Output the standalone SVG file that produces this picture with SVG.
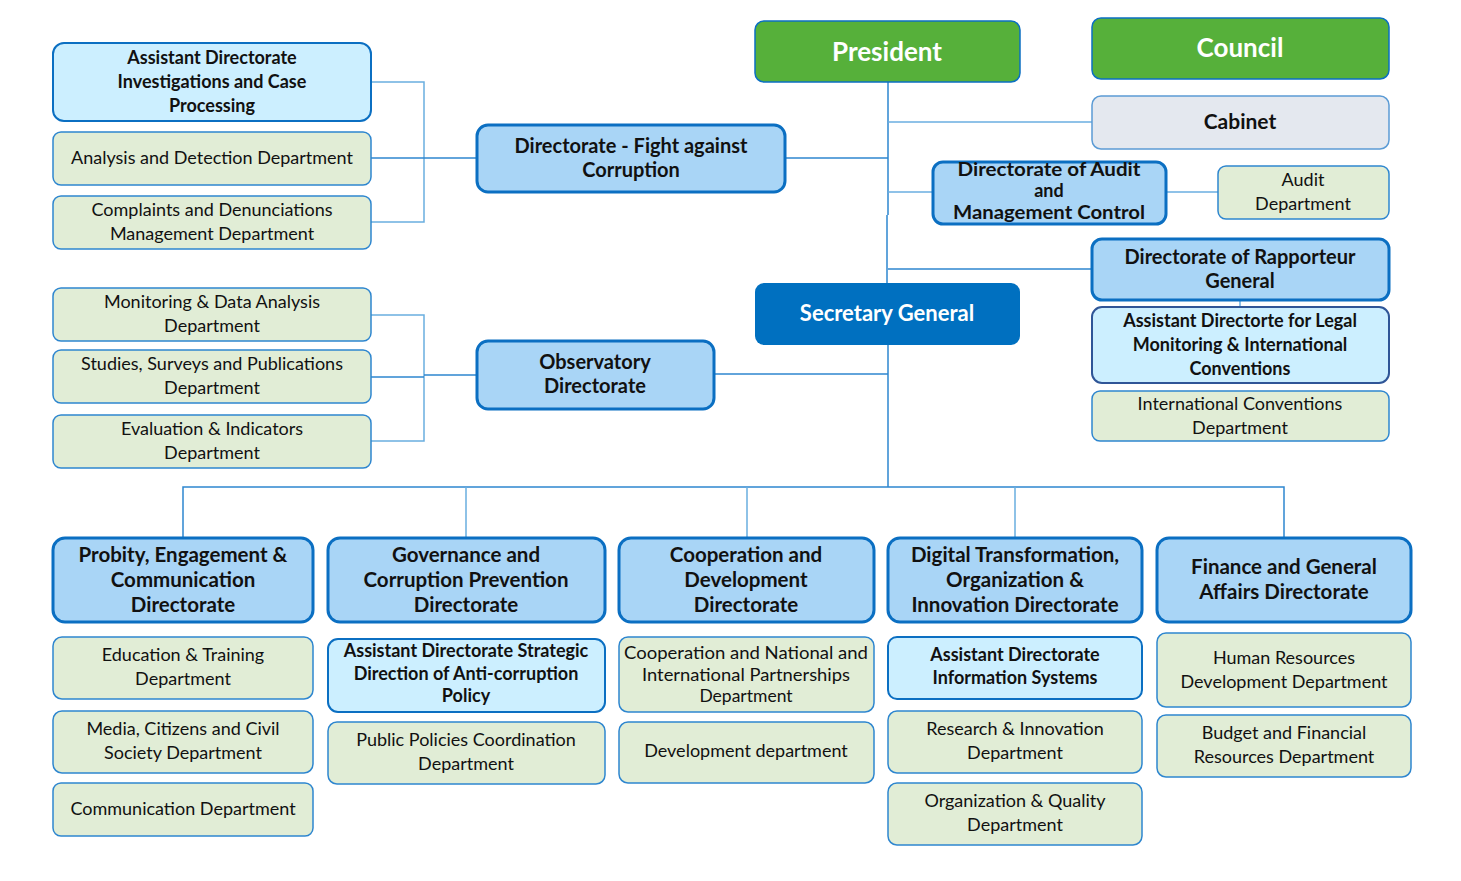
<svg xmlns="http://www.w3.org/2000/svg" width="1461" height="881" viewBox="0 0 1461 881">
<style>
text{font-family:Lato,"Open Sans","Liberation Sans",sans-serif;text-anchor:middle;fill:#111}
.dir rect{fill:#a9d5f6;stroke:#0b6fc2;stroke-width:3}
.dir text{font-weight:bold;font-size:20px}
.hd text{font-size:20.5px}
.dep rect{fill:#e1edd6;stroke:#2e86cf;stroke-width:1.5}
.dep text{font-size:18px}
.ast rect{fill:#ccefff;stroke:#0b6fc2;stroke-width:2}
.ast text{font-weight:bold;font-size:18px}
.top rect{fill:#56b03a;stroke:#0b6fc2;stroke-width:1.5}
.top text{fill:#fff;font-weight:bold;font-size:26px}
#connectors path{fill:none;stroke:#2e86cf;stroke-width:1.5}
#connectors path.lt{stroke:#6aaee0}
</style>
<g id="connectors">
<path d="M888,82 V215 M887,215 V283 M888,345 V487"/>
<path class="lt" d="M888,122 H1092"/>
<path d="M785,158 H888"/>
<path class="lt" d="M888,192 H933"/>
<path class="lt" d="M1166,192 H1218"/>
<path d="M888,269 H1092"/>
<path d="M714,374 H888"/>
<path class="lt" d="M1240,300 V307"/>
<path class="lt" d="M371,82 H424 V222 H371"/>
<path d="M371,158 H477"/>
<path class="lt" d="M371,315 H424 V441 H371"/>
<path d="M371,377 H424 M424,375 H477"/>
<path d="M183,538 V487 H1284 V538"/>
<path class="lt" d="M466,487 V538 M747,487 V538 M1015,487 V538"/>
</g>
<g id="president" class="top"><rect x="755" y="21" width="265" height="61" rx="9"/><text x="887" y="61">President</text></g>
<g id="council" class="top"><rect x="1092" y="18" width="297" height="61" rx="9"/><text x="1240" y="57">Council</text></g>
<g id="cabinet"><rect x="1092" y="96" width="297" height="53" rx="9" fill="#e4e8ef" stroke="#5b9bd5" stroke-width="1.5"/><text x="1240" y="129" font-weight="bold" font-size="21">Cabinet</text></g>
<g id="audit-dir" class="dir"><rect x="933" y="162" width="233" height="62" rx="10"/><text x="1049" y="175.5" style="font-size:18px" textLength="183" lengthAdjust="spacingAndGlyphs">Directorate of Audit</text><text x="1049" y="197" style="font-size:18px">and</text><text x="1049" y="218.5" style="font-size:18px" textLength="192" lengthAdjust="spacingAndGlyphs">Management Control</text></g>
<g id="audit-dep" class="dep"><rect x="1218" y="166" width="171" height="53" rx="8"/><text x="1303" y="186">Audit</text><text x="1303" y="210">Department</text></g>
<g id="rapporteur" class="dir"><rect x="1092" y="239" width="297" height="61" rx="10"/><text x="1240" y="264">Directorate of Rapporteur</text><text x="1240" y="288">General</text></g>
<g id="legal" class="ast"><rect x="1092" y="307" width="297" height="76" rx="10" style="stroke:#2f5597"/><text x="1240" y="327">Assistant Directorte for  Legal</text><text x="1240" y="351">Monitoring &amp; International</text><text x="1240" y="375">Conventions</text></g>
<g id="intl-conv" class="dep"><rect x="1092" y="391" width="297" height="50" rx="8"/><text x="1240" y="410">International Conventions</text><text x="1240" y="434">Department</text></g>
<g id="secgen"><rect x="755" y="283" width="265" height="62" rx="9" fill="#0070c0"/><text x="887" y="321" style="fill:#fff" font-weight="bold" font-size="22">Secretary General</text></g>
<g id="fight" class="dir"><rect x="477" y="125" width="308" height="67" rx="11"/><text x="631" y="152.5">Directorate - Fight against</text><text x="631" y="176.5">Corruption</text></g>
<g id="investigations" class="ast"><rect x="53" y="43" width="318" height="78" rx="11"/><text x="212" y="64">Assistant Directorate</text><text x="212" y="88">Investigations and Case</text><text x="212" y="112">Processing</text></g>
<g id="analysis" class="dep"><rect x="53" y="132" width="318" height="53" rx="8"/><text x="212" y="164">Analysis and Detection Department</text></g>
<g id="complaints" class="dep"><rect x="53" y="196" width="318" height="53" rx="8"/><text x="212" y="216">Complaints and Denunciations</text><text x="212" y="240">Management Department</text></g>
<g id="observatory" class="dir"><rect x="477" y="341" width="237" height="68" rx="11"/><text x="595" y="369">Observatory</text><text x="595" y="393">Directorate</text></g>
<g id="monitoring" class="dep"><rect x="53" y="288" width="318" height="53" rx="8"/><text x="212" y="308">Monitoring &amp; Data Analysis</text><text x="212" y="332">Department</text></g>
<g id="studies" class="dep"><rect x="53" y="350" width="318" height="53" rx="8"/><text x="212" y="370">Studies, Surveys and Publications</text><text x="212" y="394">Department</text></g>
<g id="evaluation" class="dep"><rect x="53" y="415" width="318" height="53" rx="8"/><text x="212" y="435">Evaluation &amp; Indicators</text><text x="212" y="459">Department</text></g>
<g id="probity" class="dir hd"><rect x="53" y="538" width="260" height="84" rx="12"/><text x="183" y="562">Probity, Engagement &amp;</text><text x="183" y="587">Communication</text><text x="183" y="612">Directorate</text></g>
<g id="education" class="dep"><rect x="53" y="637" width="260" height="62" rx="9"/><text x="183" y="661">Education &amp; Training</text><text x="183" y="685">Department</text></g>
<g id="media" class="dep"><rect x="53" y="711" width="260" height="62" rx="9"/><text x="183" y="735">Media, Citizens and Civil</text><text x="183" y="759">Society Department</text></g>
<g id="communication" class="dep"><rect x="53" y="783" width="260" height="53" rx="8"/><text x="183" y="815">Communication Department</text></g>
<g id="governance" class="dir hd"><rect x="328" y="538" width="277" height="84" rx="12"/><text x="466" y="562">Governance and</text><text x="466" y="587">Corruption Prevention</text><text x="466" y="612">Directorate</text></g>
<g id="strategic" class="ast"><rect x="328" y="639" width="277" height="73" rx="10"/><text x="466" y="657">Assistant Directorate Strategic</text><text x="466" y="679.5">Direction of Anti-corruption</text><text x="466" y="702">Policy</text></g>
<g id="public-policies" class="dep"><rect x="328" y="722" width="277" height="62" rx="9"/><text x="466" y="746">Public Policies Coordination</text><text x="466" y="770">Department</text></g>
<g id="cooperation" class="dir hd"><rect x="619" y="538" width="255" height="84" rx="12"/><text x="746" y="562">Cooperation and</text><text x="746" y="587">Development</text><text x="746" y="612">Directorate</text></g>
<g id="partnerships" class="dep"><rect x="619" y="637" width="255" height="75" rx="9"/><text x="746" y="659" style="font-size:17.5px" textLength="244" lengthAdjust="spacingAndGlyphs">Cooperation and National and</text><text x="746" y="680.5" style="font-size:17.5px" textLength="208" lengthAdjust="spacingAndGlyphs">International Partnerships</text><text x="746" y="702" style="font-size:17.5px">Department</text></g>
<g id="development" class="dep"><rect x="619" y="722" width="255" height="61" rx="9"/><text x="746" y="757">Development department</text></g>
<g id="digital" class="dir hd"><rect x="888" y="538" width="254" height="84" rx="12"/><text x="1015" y="562">Digital Transformation,</text><text x="1015" y="587">Organization &amp;</text><text x="1015" y="612">Innovation Directorate</text></g>
<g id="info-systems" class="ast"><rect x="888" y="637" width="254" height="62" rx="9"/><text x="1015" y="661">Assistant Directorate</text><text x="1015" y="684">Information Systems</text></g>
<g id="research" class="dep"><rect x="888" y="711" width="254" height="62" rx="9"/><text x="1015" y="735">Research &amp; Innovation</text><text x="1015" y="759">Department</text></g>
<g id="quality" class="dep"><rect x="888" y="783" width="254" height="62" rx="9"/><text x="1015" y="807">Organization &amp; Quality</text><text x="1015" y="831">Department</text></g>
<g id="finance" class="dir hd"><rect x="1157" y="538" width="254" height="84" rx="12"/><text x="1284" y="574">Finance and General</text><text x="1284" y="599">Affairs Directorate</text></g>
<g id="hr" class="dep"><rect x="1157" y="633" width="254" height="74" rx="9"/><text x="1284" y="664">Human Resources</text><text x="1284" y="688">Development Department</text></g>
<g id="budget" class="dep"><rect x="1157" y="715" width="254" height="62" rx="9"/><text x="1284" y="739">Budget and Financial</text><text x="1284" y="763">Resources Department</text></g>
</svg>
